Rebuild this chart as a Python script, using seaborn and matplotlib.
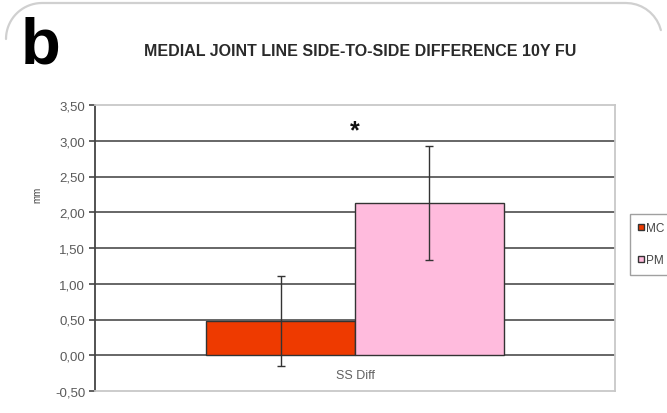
import matplotlib
matplotlib.use("Agg")
import matplotlib.pyplot as plt
from matplotlib.lines import Line2D
from matplotlib.transforms import IdentityTransform
import seaborn as sns
import pandas as pd
import numpy as np

# data
groups = ["MC", "PM"]
means = [0.48, 2.13]
sds = [0.63, 0.80]
category = "SS Diff"
yticks = [-0.5, 0.0, 0.5, 1.0, 1.5, 2.0, 2.5, 3.0, 3.5]
colors = {"MC": "#ee3a00", "PM": "#ffbbdd"}

df = pd.DataFrame({"cat": [category] * len(groups), "group": groups, "value": means})

sns.set_style("white")
plt.rcParams["font.family"] = ["Liberation Sans", "DejaVu Sans"]

fig = plt.figure(figsize=(6.67, 4.14), dpi=100)
ax = fig.add_axes([95 / 667, 1 - 392 / 414, 520 / 667, 286 / 414])

sns.barplot(data=df, x="cat", y="value", hue="group", hue_order=groups,
            palette=colors, saturation=1, errorbar=None, width=0.8,
            edgecolor="#333333", linewidth=1, ax=ax, zorder=3)

# error bars on top of each bar
for bar, sd in zip([c[0] for c in ax.containers], sds):
    cx = bar.get_x() + bar.get_width() / 2
    ax.errorbar(cx, bar.get_height(), yerr=sd, fmt="none", ecolor="#333333",
                elinewidth=1, capsize=3, capthick=1, zorder=4)

ax.set_xlim(-0.70, 0.70)
ax.set_ylim(-0.5, 3.5)
ax.set_yticks(yticks)
ax.set_yticklabels([f"{v:.2f}".replace(".", ",") for v in yticks])
ax.set_xticks([])
ax.set_xlabel("")
ax.set_ylabel("")

# inner gridlines (dark) - border lines stay light
ax.hlines(yticks[1:-1], -0.70, 0.70, colors="#666666", linewidth=1.4, zorder=1)

for side in ["top", "right", "bottom"]:
    ax.spines[side].set_color("#c8c8c8")
    ax.spines[side].set_linewidth(1.3)
ax.spines["left"].set_color("#444444")
ax.spines["left"].set_linewidth(1.3)
ax.tick_params(axis="y", direction="out", length=4, width=1.2, color="#444444",
               labelsize=9.5, labelcolor="#5a5a5a", pad=3, left=True)

ax.text(0, -0.28, category, ha="center", va="center", fontsize=9, color="#606060")
ax.text(0, 3.14, "*", ha="center", va="center", fontsize=18, fontweight="bold",
        color="#111111")

# legend, its frame runs past the right edge like the reference
handles, labels = ax.get_legend_handles_labels()
ax.get_legend().remove()
fig.legend(handles, labels, loc="upper left",
           bbox_to_anchor=(624 / 667, 1 - 209 / 414), frameon=True, fancybox=False,
           edgecolor="#888888", fontsize=8.5, handlelength=0.5, handleheight=0.5,
           handletextpad=0.2, labelspacing=1.7, borderpad=0.7,
           labelcolor="#444444")

fig.text(360.5 / 667, 1 - 56 / 414, "MEDIAL JOINT LINE SIDE-TO-SIDE DIFFERENCE 10Y FU",
         ha="center", va="baseline", fontsize=11.5, fontweight="bold", color="#2a2a2a")
fig.text(21 / 667, 1 - 63 / 414, "b", ha="left", va="baseline", fontsize=47,
         fontweight="bold", color="#000000")
fig.text(37 / 667, 1 - 195 / 414, "mm", ha="center", va="center", rotation=90,
         fontsize=7, color="#444444")

# faint top edge of the panel frame with rounded corners (pixel coords)
r = 36
t_left = np.linspace(np.pi, np.pi / 2, 20)
t_right = np.linspace(np.pi / 2, 0.25, 10)
top = 410
fx = np.concatenate([6 + r + r * np.cos(t_left), 662 - r + r * np.cos(t_right)])
fy = np.concatenate([top - r + r * np.sin(t_left), top - r + r * np.sin(t_right)])
fig.add_artist(Line2D(fx, fy, transform=IdentityTransform(), color="#d0d0d0",
                      linewidth=1.6))

fig.savefig("out.png", dpi=100)
